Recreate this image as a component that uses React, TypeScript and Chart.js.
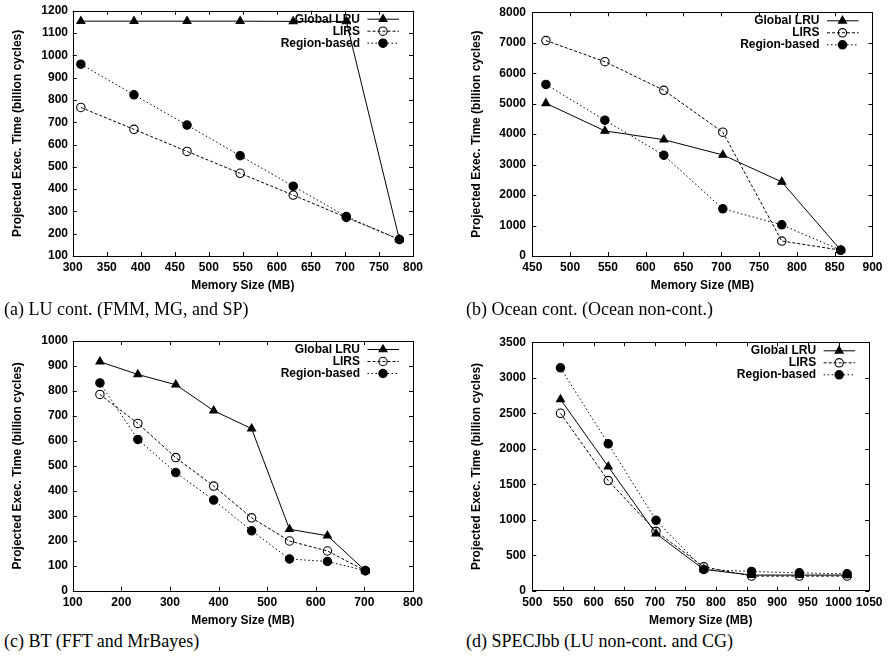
import React, { useEffect, useRef } from "react";
import { Chart, registerables } from "chart.js";

Chart.register(...registerables);

// Series names shared by all four panels
const seriesNames = ["Global LRU", "LIRS", "Region-based"];

// (a) LU cont.
const luMem = [312, 390, 468, 546, 624, 702, 780];
const luGlobalLRU = [1153, 1153, 1153, 1153, 1152, 1152, 174];
const luLIRS = [766, 668, 569, 471, 373, 273, 174];
const luRegion = [960, 823, 687, 550, 413, 277, 174];

// (b) Ocean cont.
const oceanMem = [468, 546, 624, 702, 780, 858];
const oceanGlobalLRU = [5013, 4107, 3819, 3317, 2432, 192];
const oceanLIRS = [7072, 6379, 5440, 4064, 491, 192];
const oceanRegion = [5632, 4459, 3307, 1547, 1024, 192];

// (c) BT
const btMem = [156, 234, 312, 390, 468, 546, 624, 702];
const btGlobalLRU = [917, 866, 825, 721, 649, 246, 220, 80];
const btLIRS = [786, 670, 533, 419, 292, 199, 159, 80];
const btRegion = [832, 606, 473, 363, 240, 127, 117, 80];

// (d) SPECJbb
const jbbMem = [546, 624, 702, 780, 858, 936, 1014];
const jbbGlobalLRU = [2696, 1748, 804, 300, 220, 220, 220];
const jbbLIRS = [2500, 1551, 836, 336, 206, 206, 206];
const jbbRegion = [3140, 2070, 991, 299, 271, 252, 238];

// Axis ranges: [min, max, step]
const luXRange = [300, 800, 50];
const luYRange = [100, 1200, 100];
const oceanXRange = [450, 900, 50];
const oceanYRange = [0, 8000, 1000];
const btXRange = [100, 800, 100];
const btYRange = [0, 1000, 100];
const jbbXRange = [500, 1050, 50];
const jbbYRange = [0, 3500, 500];

const captions = [
  "(a) LU cont. (FMM, MG, and SP)",
  "(b) Ocean cont. (Ocean non-cont.)",
  "(c) BT (FFT and MrBayes)",
  "(d) SPECJbb (LU non-cont. and CG)",
];

const X_TITLE = "Memory Size (MB)";
const Y_TITLE = "Projected Exec. Time (billion cycles)";

const SANS = '"Liberation Sans", Arial, Helvetica, sans-serif';
const SERIF = '"Liberation Serif", "Times New Roman", Times, serif';

const CANVAS_W = 444;
const CANVAS_H = 300;

type PanelDef = {
  mem: number[];
  series: number[][];
  xr: number[];
  yr: number[];
  ox: number;
  oy: number;
  L: number;
  R: number;
  T: number;
  B: number;
  yTitleX: number;
  yLabelRight: number;
};

const panels: PanelDef[] = [
  { mem: luMem, series: [luGlobalLRU, luLIRS, luRegion], xr: luXRange, yr: luYRange,
    ox: 0, oy: 0, L: 72.7, R: 413, T: 6, B: 256, yTitleX: 18, yLabelRight: 68 },
  { mem: oceanMem, series: [oceanGlobalLRU, oceanLIRS, oceanRegion], xr: oceanXRange, yr: oceanYRange,
    ox: 444, oy: 0, L: 532.3, R: 873, T: 6, B: 256, yTitleX: 477, yLabelRight: 526 },
  { mem: btMem, series: [btGlobalLRU, btLIRS, btRegion], xr: btXRange, yr: btYRange,
    ox: 0, oy: 330, L: 72.7, R: 413, T: 341, B: 590.7, yTitleX: 18, yLabelRight: 68 },
  { mem: jbbMem, series: [jbbGlobalLRU, jbbLIRS, jbbRegion], xr: jbbXRange, yr: jbbYRange,
    ox: 444, oy: 330, L: 532.3, R: 873, T: 341, B: 590.7, yTitleX: 477, yLabelRight: 526 },
];

// Line and marker styles per series
const dashes = [[], [3, 2], [1.5, 2.5]];
const markerStyles = ["triangle", "circle", "circle"];
const markerRadius = [4.6, 4.2, 4.2];
const markerFill = ["#000", "rgba(0,0,0,0)", "#000"];

function drawMarker(ctx: CanvasRenderingContext2D, i: number, x: number, y: number) {
  const r = markerRadius[i];
  ctx.save();
  ctx.setLineDash([]);
  ctx.lineWidth = 1.1;
  ctx.strokeStyle = "#000";
  ctx.fillStyle = "#000";
  ctx.beginPath();
  if (markerStyles[i] === "triangle") {
    ctx.moveTo(x, y - r);
    ctx.lineTo(x + 0.866 * r, y + 0.5 * r);
    ctx.lineTo(x - 0.866 * r, y + 0.5 * r);
    ctx.closePath();
    ctx.fill();
    ctx.stroke();
  } else {
    ctx.arc(x, y, r, 0, Math.PI * 2);
    if (markerFill[i] === "#000") ctx.fill();
    ctx.stroke();
  }
  ctx.restore();
}

// Plot frame with inward, mirrored tick marks
const framePlugin = {
  id: "gnuFrame",
  afterDraw(chart: any) {
    const { ctx, chartArea } = chart;
    const { left, right, top, bottom } = chartArea;
    const tl = 4;
    ctx.save();
    ctx.strokeStyle = "#000";
    ctx.lineWidth = 1;
    ctx.setLineDash([]);
    ctx.strokeRect(Math.round(left) + 0.5, Math.round(top) + 0.5, Math.round(right - left), Math.round(bottom - top));
    ctx.beginPath();
    chart.scales.x.ticks.forEach((t: any) => {
      const px = Math.round(chart.scales.x.getPixelForValue(t.value)) + 0.5;
      ctx.moveTo(px, bottom);
      ctx.lineTo(px, bottom - tl);
      ctx.moveTo(px, top);
      ctx.lineTo(px, top + tl);
    });
    chart.scales.y.ticks.forEach((t: any) => {
      const py = Math.round(chart.scales.y.getPixelForValue(t.value)) + 0.5;
      ctx.moveTo(left, py);
      ctx.lineTo(left + tl, py);
      ctx.moveTo(right, py);
      ctx.lineTo(right - tl, py);
    });
    ctx.stroke();
    ctx.restore();
  },
};

// Key in the upper right corner: label, line sample, marker
const keyPlugin = {
  id: "gnuKey",
  afterDraw(chart: any) {
    const { ctx, chartArea } = chart;
    const { right, top } = chartArea;
    ctx.save();
    seriesNames.forEach((name, i) => {
      const y = top + 8.5 + i * 12;
      ctx.font = `bold 12px ${SANS}`;
      ctx.fillStyle = "#000";
      ctx.textAlign = "right";
      ctx.textBaseline = "middle";
      ctx.fillText(name, right - 53, y);
      ctx.strokeStyle = "#000";
      ctx.lineWidth = 1;
      ctx.setLineDash(dashes[i]);
      ctx.beginPath();
      ctx.moveTo(right - 45.5, y);
      ctx.lineTo(right - 14, y);
      ctx.stroke();
      drawMarker(ctx, i, right - 30, y);
    });
    ctx.restore();
  },
};

function Panel({ p }: { p: PanelDef }) {
  const ref = useRef<HTMLCanvasElement>(null);

  useEffect(() => {
    if (!ref.current) return;
    const yAxisWidth = p.L - p.ox;
    const padRight = p.ox + CANVAS_W - p.R;
    const padTop = p.T - p.oy;
    const xAxisHeight = p.oy + CANVAS_H - p.B;
    const tickFont = { family: SANS, size: 12, weight: "bold" as const, lineHeight: 1 };
    const titleFont = { family: SANS, size: 12, weight: "bold" as const, lineHeight: 1.2 };

    const chart = new Chart(ref.current, {
      type: "line",
      data: {
        datasets: p.series.map((vals, i) => ({
          label: seriesNames[i],
          data: p.mem.map((x, j) => ({ x, y: vals[j] })),
          borderColor: "#000",
          borderWidth: 1,
          borderDash: dashes[i],
          backgroundColor: markerFill[i],
          pointBackgroundColor: markerFill[i],
          pointBorderColor: "#000",
          pointBorderWidth: 1.1,
          pointStyle: markerStyles[i] as any,
          pointRadius: markerRadius[i],
          tension: 0,
          fill: false,
          order: 3 - i,
        })),
      },
      options: {
        animation: false,
        responsive: false,
        maintainAspectRatio: false,
        events: [],
        layout: { padding: { left: 0, right: padRight, top: padTop, bottom: 0 } },
        plugins: { legend: { display: false }, tooltip: { enabled: false } },
        scales: {
          x: {
            type: "linear",
            min: p.xr[0],
            max: p.xr[1],
            ticks: {
              stepSize: p.xr[2],
              autoSkip: false,
              maxRotation: 0,
              font: tickFont,
              color: "#000",
              padding: 5.5,
              callback: (v: any) => String(v),
            },
            grid: { display: false, drawTicks: false },
            border: { display: false },
            title: {
              display: true,
              text: X_TITLE,
              font: titleFont,
              color: "#000",
              padding: { top: 0, bottom: xAxisHeight - 30 - 7.2 },
            },
            afterFit: (s: any) => {
              s.height = xAxisHeight;
            },
          },
          y: {
            type: "linear",
            min: p.yr[0],
            max: p.yr[1],
            ticks: {
              stepSize: p.yr[2],
              autoSkip: false,
              font: tickFont,
              color: "#000",
              padding: p.L - p.yLabelRight,
              callback: (v: any) => String(v),
            },
            grid: { display: false, drawTicks: false },
            border: { display: false },
            title: {
              display: true,
              text: Y_TITLE,
              font: titleFont,
              color: "#000",
              padding: { top: p.yTitleX - p.ox - 7.2, bottom: 0 },
            },
            afterFit: (s: any) => {
              s.width = yAxisWidth;
            },
          },
        },
      },
      plugins: [framePlugin, keyPlugin],
    });
    return () => chart.destroy();
  }, [p]);

  return (
    <canvas
      ref={ref}
      width={CANVAS_W}
      height={CANVAS_H}
      style={{ position: "absolute", left: p.ox, top: p.oy, width: CANVAS_W, height: CANVAS_H }}
    />
  );
}

const CAPTION_SIZE = 18;
const captionPos = [
  { left: 4, baseline: 315.5 },
  { left: 466, baseline: 315.5 },
  { left: 4, baseline: 647.5 },
  { left: 466, baseline: 647.5 },
];

export default function App() {
  return (
    <div
      style={{
        position: "absolute",
        left: 0,
        top: 0,
        width: 888,
        height: 661,
        background: "#fff",
        overflow: "hidden",
      }}
    >
      {panels.map((p, i) => (
        <Panel key={i} p={p} />
      ))}
      {captions.map((c, i) => (
        <div
          key={c}
          style={{
            position: "absolute",
            left: captionPos[i].left,
            top: captionPos[i].baseline - 0.891 * CAPTION_SIZE,
            fontFamily: SERIF,
            fontSize: CAPTION_SIZE,
            lineHeight: "normal",
            whiteSpace: "nowrap",
            color: "#000",
          }}
        >
          {c}
        </div>
      ))}
    </div>
  );
}
